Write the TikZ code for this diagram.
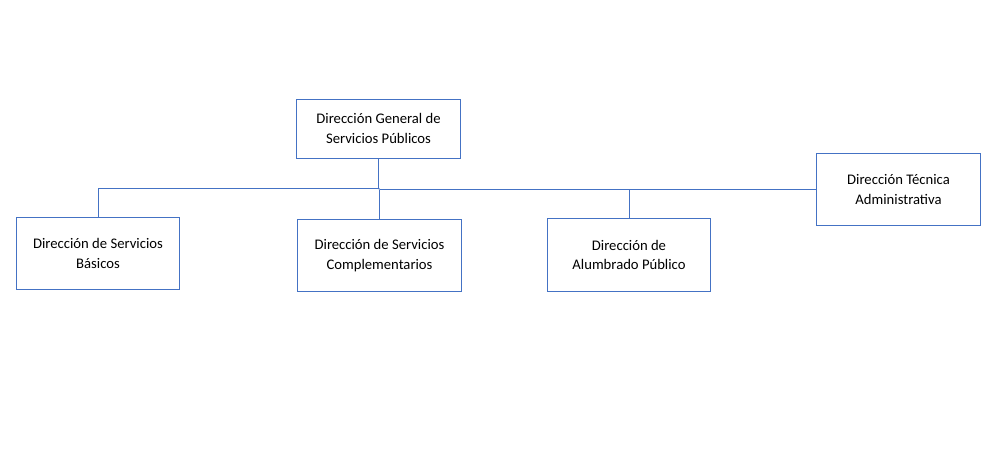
\documentclass[tikz,border=0pt]{standalone}
\usepackage{fontspec}
\setmainfont{Carlito}
\definecolor{orgblue}{HTML}{4472C4}

\begin{document}
\begin{tikzpicture}[x=0.75pt, y=-0.75pt,
  unit/.style={draw=orgblue, line width=0.75pt, rectangle, align=center,
    minimum width=122.5pt, minimum height=54.5pt, inner sep=2pt,
    font=\fontsize{11}{14.5}\selectfont},
  link/.style={draw=orgblue, line width=0.75pt}]
  \useasboundingbox (0, 0) rectangle (998, 460);
  \node[unit, minimum height=44.25pt] (general) at (378.5, 128.5) {Dirección General de\\Servicios Públicos};
  \node[unit] (basicos) at (98, 253.5) {Dirección de Servicios\\Básicos};
  \node[unit] (complementarios) at (379.5, 255.5) {Dirección de Servicios\\Complementarios};
  \node[unit] (alumbrado) at (629, 255) {Dirección de\\Alumbrado Público};
  \node[unit] (tecnica) at (898.5, 189.5) {Dirección Técnica\\Administrativa};
  \coordinate (split) at (378.5, 188);
  \coordinate (branch) at (379.5, 189.5);
  \draw[link] (general.south) -- (split) -| (basicos.north);
  \draw[link] (split) -- (branch);
  \draw[link] (branch) -- (complementarios.north);
  \draw[link] (branch) -| (alumbrado.north);
  \draw[link] (branch) -- (tecnica.west);
\end{tikzpicture}
\end{document}
